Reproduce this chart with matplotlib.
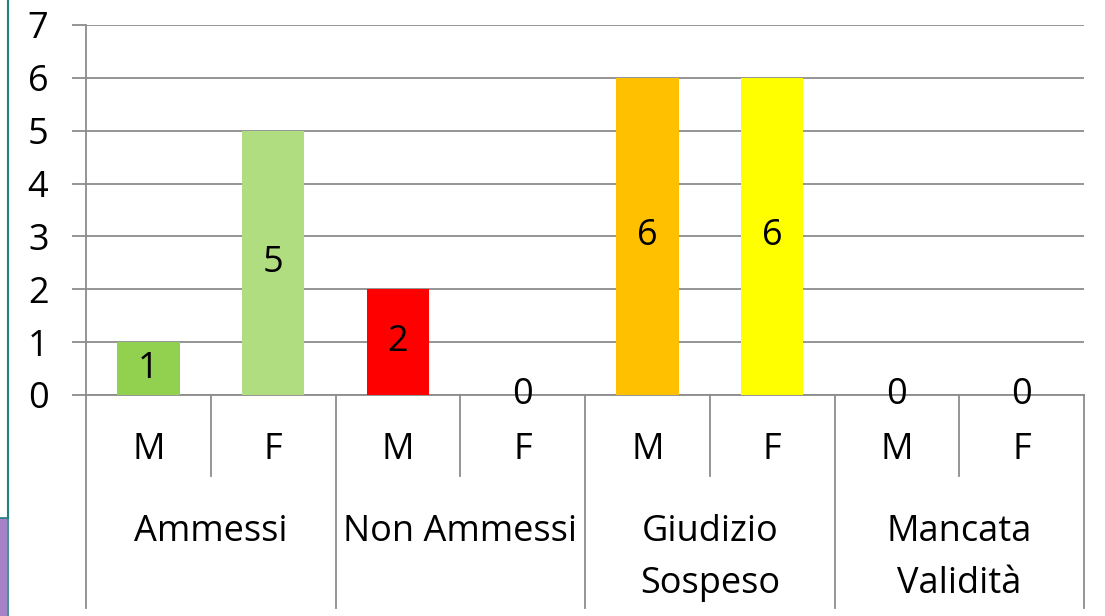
import matplotlib.pyplot as plt
from matplotlib.patches import Rectangle
from matplotlib.lines import Line2D

plt.rcParams['font.family'] = ['Open Sans', 'DejaVu Sans']

groups = ['Ammessi', 'Non Ammessi', 'Giudizio\nSospeso', 'Mancata\nValidità']
sexes = ['M', 'F']
values = [1, 5, 2, 0, 6, 6, 0, 0]
colors = ['#92D050', '#B0DD80', '#FF0000', '#FF0000', '#FFC000', '#FFFF00', '#92D050', '#92D050']

FS = 26

fig = plt.figure(figsize=(11.05, 6.16), dpi=100)
ax = fig.add_axes([86 / 1105, 1 - 395 / 616, 998 / 1105, 370 / 616])

grid_c = '#8C8C8C'
xs = [i + 0.5 for i in range(len(values))]
bars = ax.bar(xs, values, width=0.5, color=colors, zorder=3)

for x, v in zip(xs, values):
    ypos = v / 2 if v > 0 else 0
    ax.text(x, ypos, str(v), ha='center', va='center', fontsize=FS, zorder=4)

ax.set_xlim(0, 8)
ax.set_ylim(0, 7)
ax.set_yticks(range(8))
ax.yaxis.grid(True, color=grid_c, lw=1.3, zorder=0)
ax.tick_params(axis='y', length=10, width=1.3, color=grid_c, labelsize=FS, pad=17)
ax.set_xticks([])
for s in ['top', 'right', 'bottom']:
    ax.spines[s].set_visible(False)
ax.spines['left'].set_color(grid_c)
ax.spines['left'].set_linewidth(1.3)

# category axis below the plot
tr = ax.get_xaxis_transform()
sub_bottom = -81 / 370
grp_bottom = -213 / 370
ax.plot([0, 8], [0, 0], color=grid_c, lw=1.3, transform=tr, clip_on=False, zorder=2)
for i in range(len(values) + 1):
    bottom = grp_bottom if i % 2 == 0 else sub_bottom
    ax.plot([i, i], [0, bottom], color=grid_c, lw=1.3, transform=tr, clip_on=False)
for i, x in enumerate(xs):
    ax.text(x, -55 / 370, sexes[i % 2], ha='center', va='center', fontsize=FS, transform=tr)
for g, name in enumerate(groups):
    ax.text(2 * g + 1, -119 / 370, name, ha='center', va='top', fontsize=FS,
            linespacing=1.58, transform=tr)

# slide decoration at left edge
fig.add_artist(Line2D([8 / 1105, 8 / 1105], [98 / 616, 1], color='#1F7F7F', lw=1.5))
fig.add_artist(Rectangle((0, 0), 7 / 1105, 98 / 616, transform=fig.transFigure,
                         facecolor='#A882C8', edgecolor='none'))
fig.add_artist(Line2D([0, 8 / 1105], [98 / 616, 98 / 616], color='#1F7F7F', lw=1.2))
fig.add_artist(Line2D([8 / 1105, 8 / 1105], [0, 98 / 616], color='#1F7F7F', lw=1.2))

fig.savefig('out.png', dpi=100)
